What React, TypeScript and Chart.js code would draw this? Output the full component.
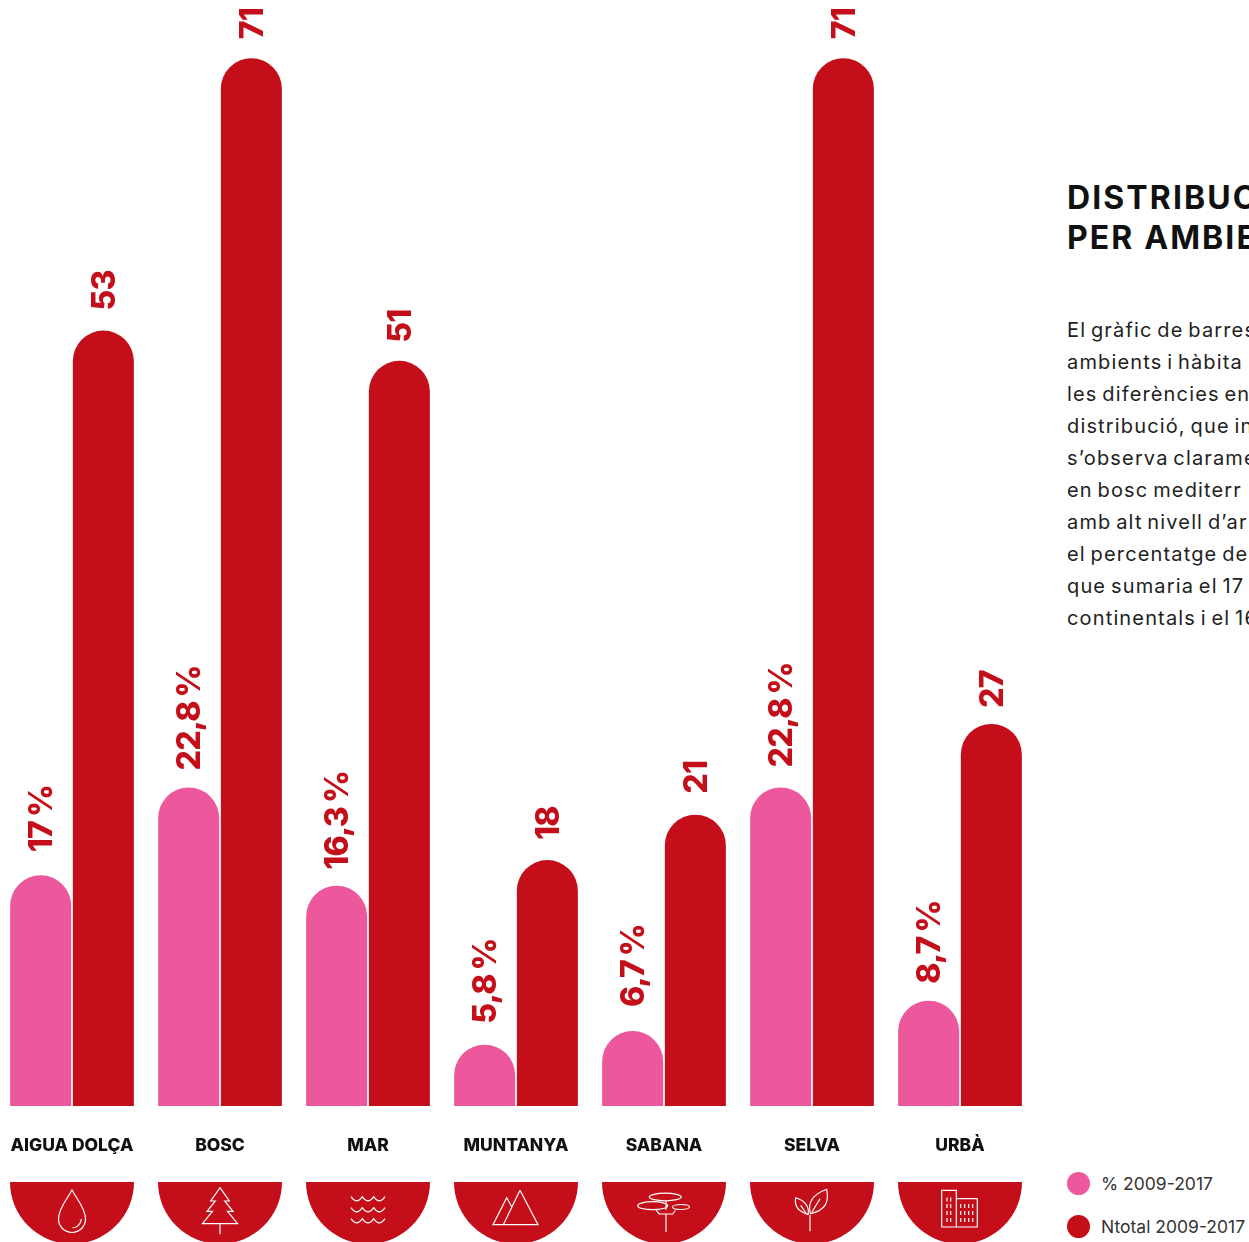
import React, { useEffect, useRef } from "react";
import { Chart, registerables } from "chart.js";

Chart.register(...registerables);

const categories = ["AIGUA DOLÇA", "BOSC", "MAR", "MUNTANYA", "SABANA", "SELVA", "URBÀ"];
const percentValues = [17, 22.8, 16.3, 5.8, 6.7, 22.8, 8.7];
const totalValues = [53, 71, 51, 18, 21, 71, 27];
const seriesNames = ["% 2009-2017", "Ntotal 2009-2017"];
const titleLines = ["DISTRIBUC", "PER AMBIE"];
const bodyLines = [
  "El gràfic de barres",
  "ambients i hàbita",
  "les diferències ent",
  "distribució, que in",
  "s’observa clarame",
  "en bosc mediterr",
  "amb alt nivell d’ar",
  "el percentatge de",
  "que sumaria el 17",
  "continentals i el 16",
];

const RED = "#c40e1a";
const PINK = "#ec589b";
const FONT = "Inter, 'Open Sans', sans-serif";

// Small hand adjustments of each value label's distance above its bar.
const labelGapNudges = [
  [3, -3, -4, 1, 4, 0, -3],
  [0, -1, -2, 0, 1, -1, -4],
];

const iconPaths = [
  "M0 8C-4 16-13.5 26-13.5 37A13.5 13.5 0 0 0 13.5 37C13.5 26 4 16 0 8ZM0.5 46Q8 45 9.5 37",
  "M0 5.7L9.3 19H4.7L13 29.3H7.5L17.6 41.7H-17.6L-7.5 29.3H-13L-4.7 19H-9.3ZM0 41.7V52.3",
  "M-17 14.7Q-11.3 23-5.7 14.7Q0 23 5.7 14.7Q11.3 23 17 14.7M-17 25.7Q-11.3 34-5.7 25.7Q0 34 5.7 25.7Q11.3 34 17 25.7M-17 36.7Q-11.3 45-5.7 36.7Q0 45 5.7 36.7Q11.3 45 17 36.7",
  "M4 8.3L22 42.7H-23L-9.3 15.7L-4 25.3M4 8.3L-12.7 42.7",
  "M17.3 15A16 3.8 0 1 0-14.7 15A16 3.8 0 1 0 17.3 15ZM3.7 23.7A15 4 0 1 0-26.3 23.7A15 4 0 1 0 3.7 23.7ZM25.5 25A8.5 2.5 0 1 0 8.5 25A8.5 2.5 0 1 0 25.5 25ZM2 19V27.7M2 32V50M-8 28L-4.7 32H8.7L11.3 28.5",
  "M-2 49.3V33M-1.5 31.7C-5 20 2 12 14.7 7.3C17 20 14 28 -1.5 31.7ZM0 30L8 16.7M-3.7 32.3C-3 26-6 19-16.3 15.7C-18 25-13 30-3.7 32.3ZM-11.3 23.3L-4.7 33",
  "M-18.3 45V8.3H-3.7V45ZM-3.7 16.7H17.3V45H-3.7ZM-13 15.5V19.5M-9.3 15.5V19.5M-13 22V26M-9.3 22V26M-13 29V33M-9.3 29V33M-13 36V40M-9.3 36V40M0.7 22V26M4.7 22V26M8.7 22V26M12.7 22V26M0.7 29V33M4.7 29V33M8.7 29V33M12.7 29V33M0.7 36V40M4.7 36V40M8.7 36V40M12.7 36V40",
];

const labelPlugin = {
  id: "barValueLabels",
  afterDatasetsDraw(chart: any) {
    const ctx = chart.ctx;
    chart.data.datasets.forEach((ds: any, d: number) => {
      chart.getDatasetMeta(d).data.forEach((bar: any, i: number) => {
        const v = ds.data[i];
        const text = d === 0 ? `${String(v).replace(".", ",")}\u2009%` : String(v);
        ctx.save();
        ctx.translate(bar.x + 2, bar.y);
        ctx.rotate(-Math.PI / 2);
        ctx.font = `800 32px ${FONT}`;
        ctx.letterSpacing = "-0.8px";
        ctx.fillStyle = RED;
        ctx.textAlign = "left";
        ctx.textBaseline = "middle";
        ctx.fillText(text, 20 + labelGapNudges[d][i], 0);
        ctx.restore();
      });
    });
  },
};

const iconPlugin = {
  id: "iconBadges",
  afterDraw(chart: any) {
    const ctx = chart.ctx;
    const x = chart.scales.x;
    categories.forEach((_, i) => {
      const cx = x.getPixelForTick(i);
      const top = 1182;
      ctx.save();
      ctx.beginPath();
      ctx.arc(cx, top, 62, 0, Math.PI);
      ctx.closePath();
      ctx.fillStyle = RED;
      ctx.fill();
      ctx.translate(cx, top);
      ctx.strokeStyle = "#ffffff";
      ctx.lineWidth = 1.2;
      ctx.lineJoin = "miter";
      ctx.stroke(new Path2D(iconPaths[i]));
      ctx.restore();
    });
  },
};

export default function App() {
  const ref = useRef<HTMLCanvasElement>(null);
  useEffect(() => {
    const chart = new Chart(ref.current!, {
      type: "bar",
      data: {
        labels: categories,
        datasets: [
          { label: seriesNames[0], data: percentValues, backgroundColor: PINK },
          { label: seriesNames[1], data: totalValues, backgroundColor: RED },
        ],
      },
      options: {
        responsive: false,
        animation: false,
        layout: { padding: 0 },
        categoryPercentage: 0.8473,
        barPercentage: 0.973,
        elements: { bar: { borderRadius: { topLeft: 31, topRight: 31, bottomLeft: 0, bottomRight: 0 }, borderWidth: 0 } },
        plugins: { legend: { display: false }, title: { display: false }, tooltip: { enabled: false } },
        scales: {
          x: {
            grid: { display: false },
            border: { display: false },
            afterFit: (s: any) => { s.height = 136; s.paddingLeft = 0; s.paddingRight = 0; },
            ticks: {
              autoSkip: false,
              maxRotation: 0,
              minRotation: 0,
              padding: 21,
              color: "#111111",
              font: { family: FONT, size: 17.5, weight: "800" },
            },
          },
          y: { display: false, min: 1.745, max: 74.85 },
        },
      } as any,
      plugins: [labelPlugin, iconPlugin],
    });
    return () => chart.destroy();
  }, []);

  return (
    <div style={{ position: "absolute", left: 0, top: 0, width: 1249, height: 1242, overflow: "hidden", background: "#fff", fontFamily: FONT }}>
      <canvas ref={ref} width={1036} height={1242} style={{ position: "absolute", left: -2, top: 0, width: 1036, height: 1242 }} />
      <div style={{ position: "absolute", left: 1067, top: 178, fontSize: 32, lineHeight: "40px", fontWeight: 700, letterSpacing: 2.1, color: "#111", whiteSpace: "nowrap" }}>
        {titleLines.map((l) => <div key={l}>{l}</div>)}
      </div>
      <div style={{ position: "absolute", left: 1067, top: 314, fontSize: 20, lineHeight: "32px", fontWeight: 400, letterSpacing: 1.15, wordSpacing: -2, color: "#222", whiteSpace: "nowrap" }}>
        {bodyLines.map((l) => <div key={l}>{l}</div>)}
      </div>
      {seriesNames.map((n, i) => (
        <div key={n} style={{ position: "absolute", left: 1067, top: i === 0 ? 1172 : 1214.5, height: 23, display: "flex", alignItems: "center", whiteSpace: "nowrap" }}>
          <span style={{ width: 23, height: 23, borderRadius: "50%", background: i === 0 ? PINK : RED, display: "inline-block" }} />
          <span style={{ marginLeft: 11, fontSize: 17.5, color: "#333" }}>{n}</span>
        </div>
      ))}
    </div>
  );
}
